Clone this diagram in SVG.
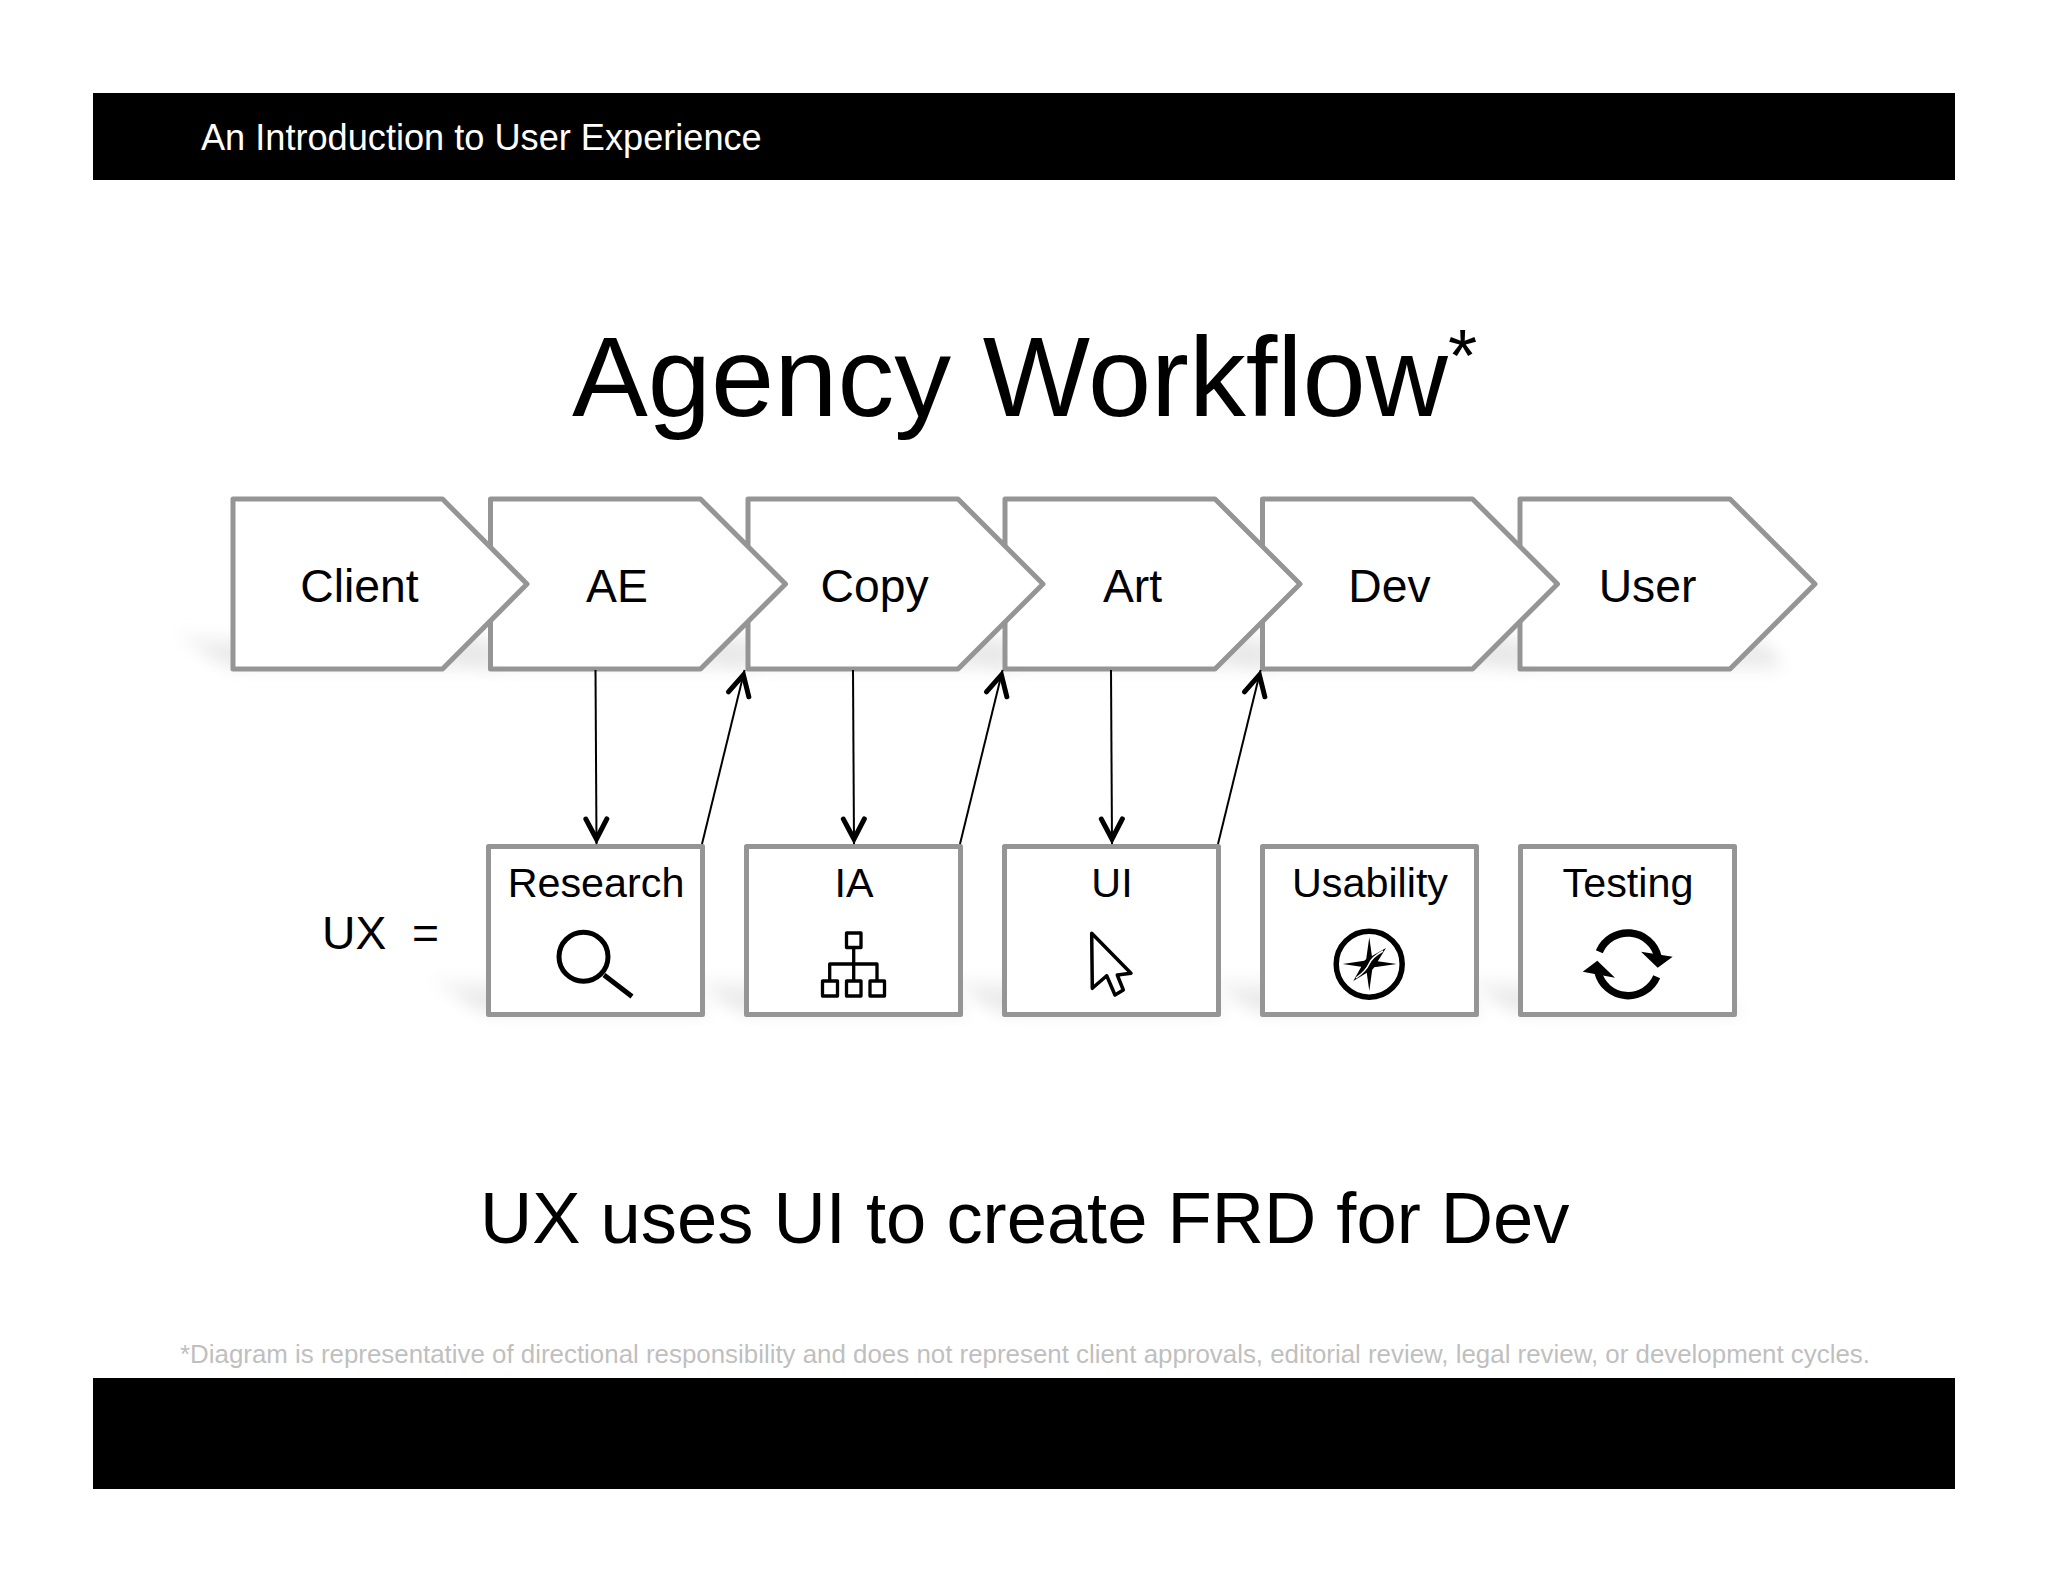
<svg xmlns="http://www.w3.org/2000/svg" width="2048" height="1582" viewBox="0 0 2048 1582">
<style>
text{font-family:"Liberation Sans",Arial,sans-serif;fill:#000}
.c{text-anchor:middle}
.n{fill:#fff;stroke:#959595;stroke-width:5;stroke-linejoin:round}
.l{font-size:46.300px}
.b{font-size:41.300px}
.ic{fill:none;stroke:#000;stroke-linejoin:round}
.sh{fill:url(#sg);filter:url(#blur)}
.ln{fill:none;stroke:#000;stroke-width:2;marker-end:url(#v)}
</style>
<defs>
<linearGradient id="sg" x1="0" y1="0" x2="0" y2="1"><stop offset="0" stop-color="#ebebeb" stop-opacity="0.1"/><stop offset="0.6" stop-color="#e6e6e6"/><stop offset="1" stop-color="#f4f4f4"/></linearGradient>
<filter id="blur" x="-20%" y="-50%" width="140%" height="200%"><feGaussianBlur stdDeviation="8"/></filter>
<marker id="v" markerUnits="userSpaceOnUse" viewBox="-24 -14 32 28" markerWidth="32" markerHeight="28" refX="5" refY="0" orient="auto"><path d="M-20-10.500L0 0L-20 10.500" fill="none" stroke="#000" stroke-width="5" stroke-linecap="round"/></marker>
</defs>
<rect width="2048" height="1582" fill="#fff"/>
<g id="header"><rect x="93" y="93" width="1862" height="87"/><text x="201" y="150" font-size="36.170" style="fill:#fff">An Introduction to User Experience</text></g>
<rect id="footer" x="93" y="1378" width="1862" height="111"/>
<g id="title"><text x="572" y="416" font-size="113.660">Agency Workflow</text><text x="1448" y="381" font-size="75">*</text></g>
<g id="shadows">
<path class="sh" d="M168 632H470L500 670H232Z"/>
<path class="sh" d="M426 632H728L758 670H490Z"/>
<path class="sh" d="M684 632H986L1016 670H748Z"/>
<path class="sh" d="M941 632H1243L1273 670H1005Z"/>
<path class="sh" d="M1199 632H1501L1531 670H1263Z"/>
<path class="sh" d="M1456 632H1760L1785 670H1520Z"/>
<path class="sh" d="M423 976H680L710 1016H488Z"/>
<path class="sh" d="M681 976H938L968 1016H746Z"/>
<path class="sh" d="M939 976H1196L1226 1016H1004Z"/>
<path class="sh" d="M1197 976H1454L1484 1016H1262Z"/>
<path class="sh" d="M1455 976H1712L1742 1016H1520Z"/>
</g>
<g id="user"><path class="n" d="M1520 499H1730L1815 584L1730 669H1520Z"/><text class="c l" x="1647.500" y="602">User</text></g>
<g id="dev"><path class="n" d="M1262.500 499H1472.500L1557.500 584L1472.500 669H1262.500Z"/><text class="c l" x="1389.500" y="602">Dev</text></g>
<g id="art"><path class="n" d="M1005 499H1215L1300 584L1215 669H1005Z"/><text class="c l" x="1132.500" y="602">Art</text></g>
<g id="copy"><path class="n" d="M748 499H958L1043 584L958 669H748Z"/><text class="c l" x="874.500" y="602">Copy</text></g>
<g id="ae"><path class="n" d="M490.500 499H700.500L785.500 584L700.500 669H490.500Z"/><text class="c l" x="617" y="602">AE</text></g>
<g id="client"><path class="n" d="M233 499H442.500L527 584L442.500 669H233Z"/><text class="c l" x="359.500" y="602">Client</text></g>
<text id="ux" x="322" y="948.500" font-size="46.300" xml:space="preserve">UX  =</text>
<g id="research"><rect class="n" x="488.500" y="846.500" width="214" height="168"/><text class="c b" x="596" y="897">Research</text>
<circle class="ic" cx="583.500" cy="956.700" r="24.500" stroke-width="5"/><path class="ic" d="M604 975L632 996.500" stroke-width="5"/></g>
<g id="ia"><rect class="n" x="746.500" y="846.500" width="214" height="168"/><text class="c b" x="854" y="897">IA</text>
<path class="ic" stroke-width="3.300" d="M846.500 933H861V947.500H846.500ZM822.500 981H837.500V996H822.500ZM846.500 981H861V996H846.500ZM870 981H884.500V996H870ZM853.700 947.500V981M829.700 981V964H877V981"/></g>
<g id="ui"><rect class="n" x="1004.500" y="846.500" width="214" height="168"/><text class="c b" x="1112" y="897">UI</text>
<path class="ic" stroke-width="3.500" d="M1091.700 933.300L1131 973.300L1117.300 975L1123.300 990L1115 995L1106.700 975.700L1092.300 988.300Z"/></g>
<g id="usability"><rect class="n" x="1262.500" y="846.500" width="214" height="168"/><text class="c b" x="1370" y="897">Usability</text>
<circle class="ic" cx="1369.200" cy="964.200" r="33" stroke-width="5.500"/>
<path d="M1369.300 937.300L1372.500 960.500L1396.700 964L1372.500 967.500L1369.300 991L1366 967.500L1342.700 964L1366 960.500Z"/>
<path d="M1386 948L1373 969L1353.300 981L1365 960Z"/>
<path d="M1383 951Q1372 957 1369 964Q1366 971 1356 978" fill="none" stroke="#fff" stroke-width="1.500"/></g>
<g id="testing"><rect class="n" x="1520.500" y="846.500" width="214" height="168"/><text class="c b" x="1628" y="897">Testing</text>
<path class="ic" stroke-width="7.500" d="M1599.300 951.700A31 31 0 0 1 1658 957M1656.700 976.700A31 31 0 0 1 1598 972"/>
<path d="M1641 951.700L1672.700 956.700L1657.700 967.700ZM1582.700 971.700L1597.300 960.700L1615 977.700Z"/></g>
<g id="connectors">
<path class="ln" d="M595.500 670L596.500 844"/>
<path class="ln" d="M702 844L744.600 670"/>
<path class="ln" d="M853 670L854 844"/>
<path class="ln" d="M960 844L1002.600 670"/>
<path class="ln" d="M1111 670L1112 844"/>
<path class="ln" d="M1218 844L1260.600 670"/>
</g>
<text id="headline" x="480" y="1242.500" font-size="72.350">UX uses UI to create FRD for Dev</text>
<text id="note" x="180" y="1363" font-size="25.880" style="fill:#bfbfbf">*Diagram is representative of directional responsibility and does not represent client approvals, editorial review, legal review, or development cycles.</text>
</svg>
